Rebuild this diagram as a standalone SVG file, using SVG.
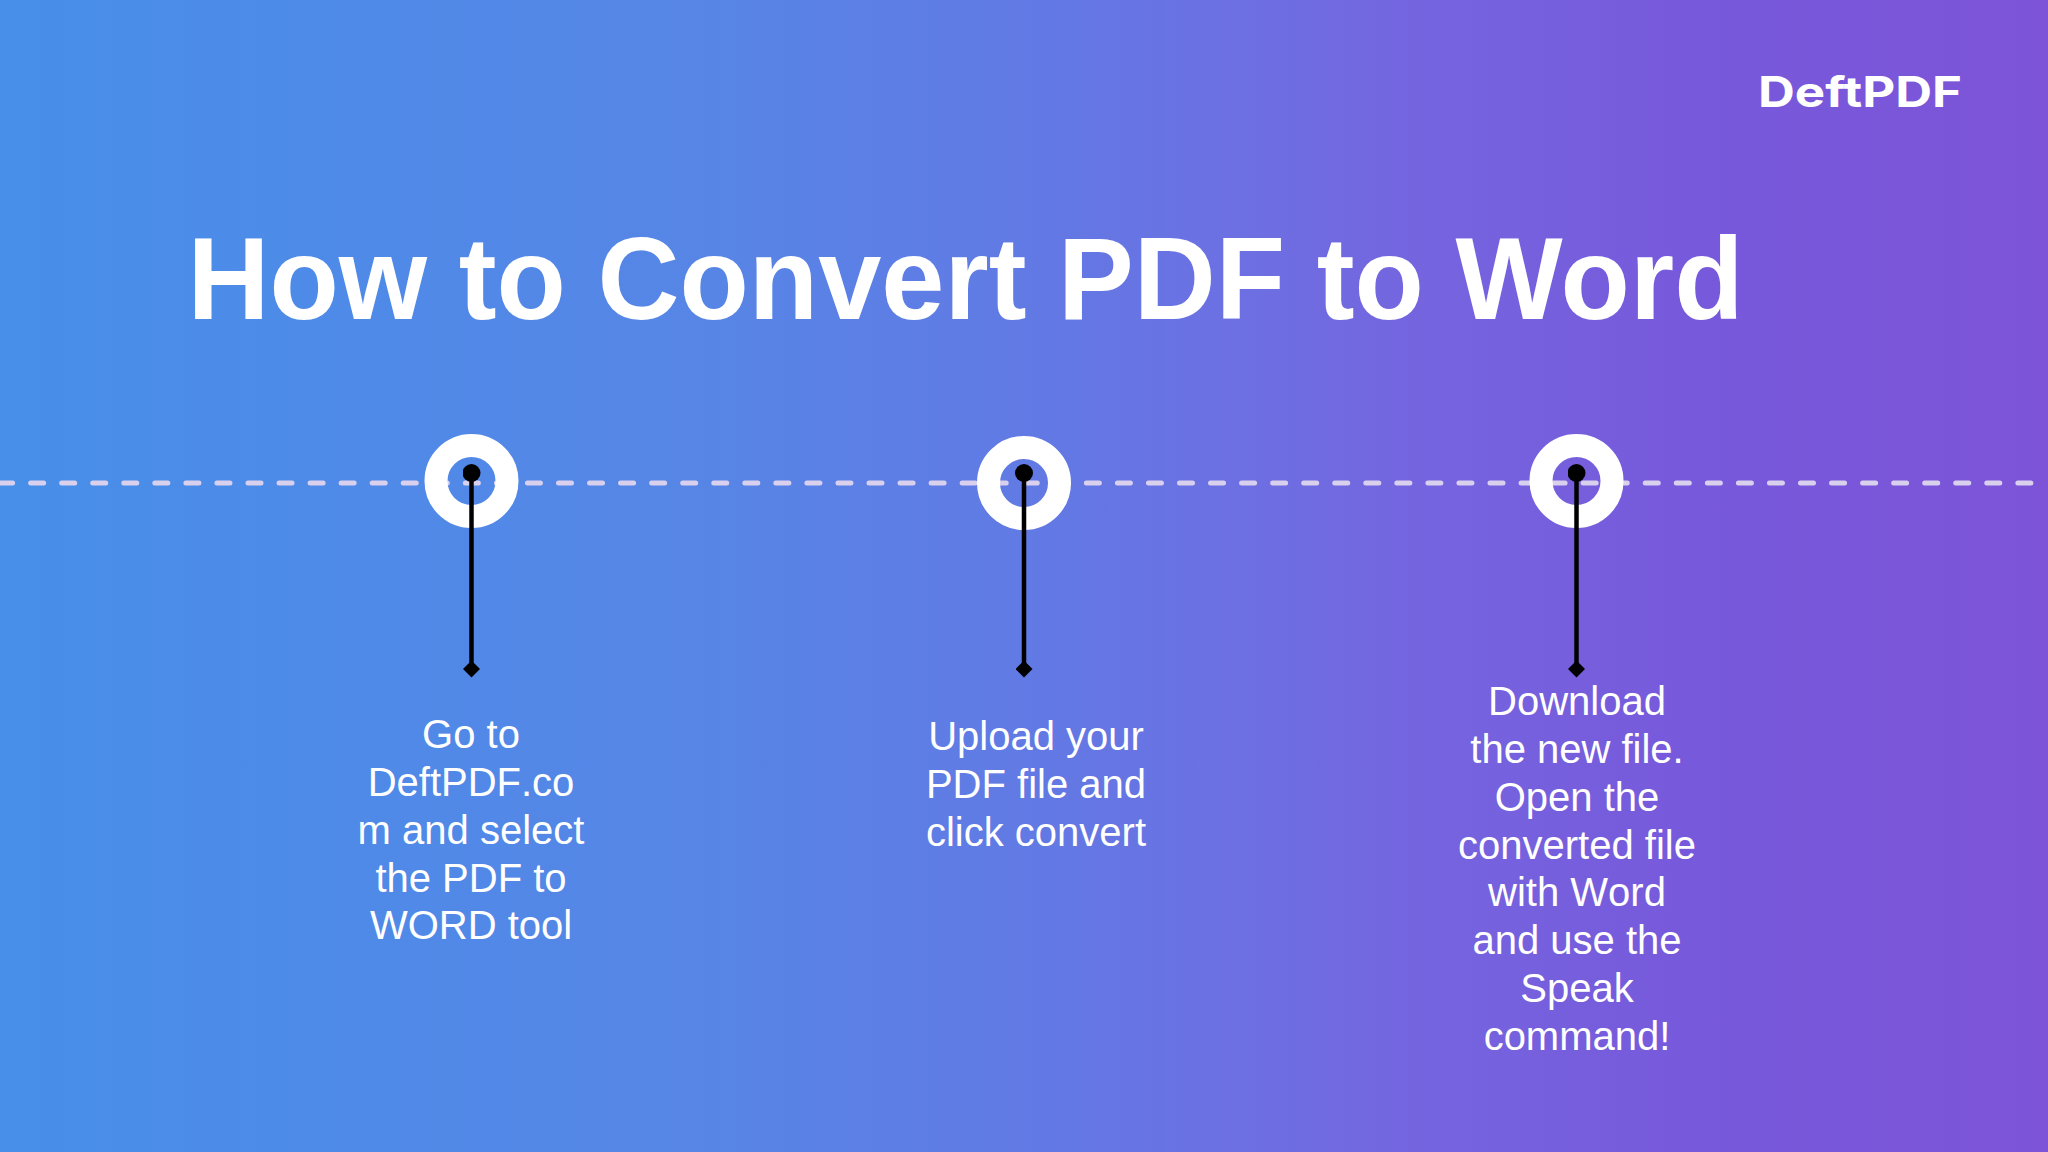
<svg xmlns="http://www.w3.org/2000/svg" width="2048" height="1152" viewBox="0 0 2048 1152">
<defs>
<linearGradient id="bg" x1="0" y1="0" x2="1" y2="0"><stop offset="0" stop-color="#478fe9"/><stop offset="0.35" stop-color="#5785e6"/><stop offset="0.51" stop-color="#6279e4"/><stop offset="0.6" stop-color="#6c70e2"/><stop offset="0.7" stop-color="#7564df"/><stop offset="0.83" stop-color="#7759db"/><stop offset="1" stop-color="#7d54d8"/></linearGradient>
<marker id="d" viewBox="0 0 10 10" refX="5" refY="5" markerWidth="17" markerHeight="17" markerUnits="userSpaceOnUse" orient="auto"><path d="M5 0L10 5L5 10L0 5Z" fill="#000"/></marker>
<marker id="o" viewBox="0 0 10 10" refX="5" refY="5" markerWidth="18" markerHeight="18" markerUnits="userSpaceOnUse"><circle cx="5" cy="5" r="5" fill="#000"/></marker>
</defs>
<style>
text{font-family:"Liberation Sans",Arial,sans-serif;fill:#fff}
.s{font-size:40px;text-anchor:middle;font-kerning:none}
.r{fill:none;stroke:#fff;stroke-width:23}
.c{stroke:#000;stroke-width:4.5;fill:none;marker-start:url(#o);marker-end:url(#d)}
</style>
<rect width="2048" height="1152" fill="url(#bg)"/>
<text x="1758" y="107" textLength="204" lengthAdjust="spacingAndGlyphs" style="font-family:Inter,sans-serif;font-size:42px;font-weight:700">DeftPDF</text>
<text x="187.5" y="319" textLength="1556" lengthAdjust="spacingAndGlyphs" style="font-size:116px;font-weight:700">How to Convert PDF to Word</text>
<g id="connectors">
<line x1="0" y1="483" x2="2048" y2="483" stroke="#d9d0ee" stroke-width="5" stroke-dasharray="13 18.05" stroke-dashoffset="0.4" stroke-linecap="round"/>
</g>
<g id="n1"><circle class="r" cx="471.5" cy="481" r="35.5"/><line class="c" x1="471.5" y1="473" x2="471.5" y2="669"/>
<text class="s"><tspan x="471" y="748">Go to</tspan><tspan x="471" y="796">DeftPDF.co</tspan><tspan x="471" y="844">m and select</tspan><tspan x="471" y="892">the PDF to</tspan><tspan x="471" y="939">WORD tool</tspan></text></g>
<g id="n2"><circle class="r" cx="1024" cy="483" r="35.5"/><line class="c" x1="1024" y1="473" x2="1024" y2="669"/>
<text class="s"><tspan x="1036" y="750">Upload your</tspan><tspan x="1036" y="798">PDF file and</tspan><tspan x="1036" y="846">click convert</tspan></text></g>
<g id="n3"><circle class="r" cx="1576.5" cy="481" r="35.5"/><line class="c" x1="1576.5" y1="473" x2="1576.5" y2="669"/>
<text class="s"><tspan x="1577" y="715">Download</tspan><tspan x="1577" y="763">the new file.</tspan><tspan x="1577" y="811">Open the</tspan><tspan x="1577" y="859">converted file</tspan><tspan x="1577" y="906">with Word</tspan><tspan x="1577" y="954">and use the</tspan><tspan x="1577" y="1002">Speak</tspan><tspan x="1577" y="1050">command!</tspan></text></g>
</svg>
